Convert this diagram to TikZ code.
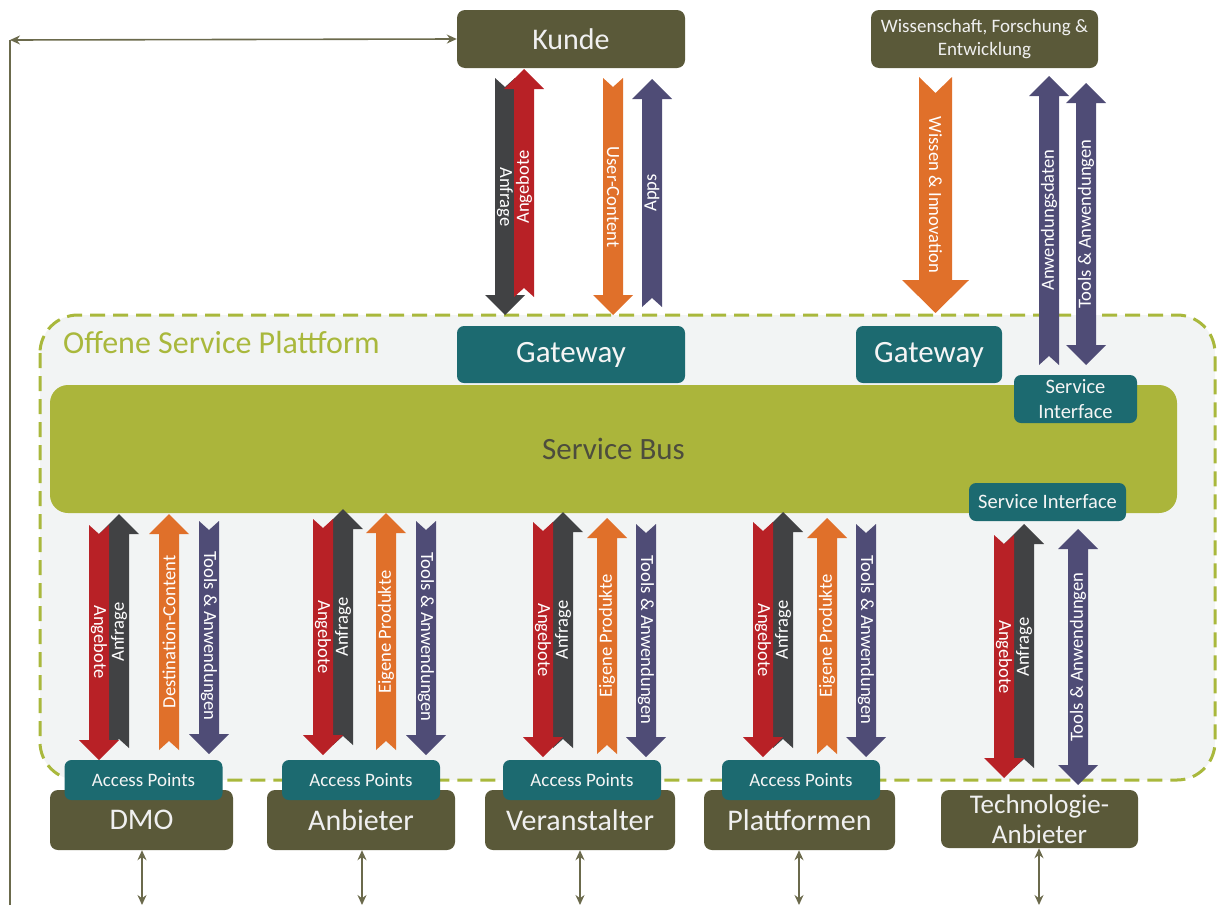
\documentclass[tikz,border=0pt]{standalone}
\usepackage{fontspec}
\setmainfont{Carlito}
\usetikzlibrary{arrows.meta}
\definecolor{olivebox}{HTML}{5A5939}
\definecolor{tealbox}{HTML}{1C6A70}
\definecolor{platfill}{HTML}{F2F4F4}
\definecolor{platline}{HTML}{A9B83C}
\definecolor{busfill}{HTML}{ABB53B}
\definecolor{bustext}{HTML}{4D4D3D}
\definecolor{cred}{HTML}{B82126}
\definecolor{cdark}{HTML}{414244}
\definecolor{corange}{HTML}{E0702A}
\definecolor{cpurple}{HTML}{4F4C76}
\definecolor{connc}{HTML}{6B6A4C}
\newcommand\fatarr[8]{%
  \pgfmathsetmacro\asgn{sign(#4-#3)}%
  \fill[#1] ({#2-#5},{#3}) -- ({#2},{#3+\asgn*#8}) -- ({#2+#5},{#3}) -- ({#2+#5},{#4-\asgn*#7}) -- ({#2+#6},{#4-\asgn*#7}) -- ({#2},{#4}) -- ({#2-#6},{#4-\asgn*#7}) -- ({#2-#5},{#4-\asgn*#7}) -- cycle;}
\newcommand\farr[4]{\fatarr{#1}{#2}{#3}{#4}{10}{20}{20}{9}}
\newcommand\dbarr[4]{%
  \fill[#1] ({#2-10},{#3+20}) -- ({#2-20},{#3+20}) -- ({#2},{#3}) -- ({#2+20},{#3+20}) -- ({#2+10},{#3+20}) -- ({#2+10},{#4-20}) -- ({#2+20},{#4-20}) -- ({#2},{#4}) -- ({#2-20},{#4-20}) -- ({#2-10},{#4-20}) -- cycle;}
\newcommand\alab[5]{\node[arrlab, rotate=#4] (#1) at (#2,#3) {#5};}
\tikzset{
  obox/.style={rounded corners=8pt, fill=olivebox, text=white!94!black, inner sep=0pt, align=center, font=\fontsize{30}{30}\selectfont},
  tbox/.style={rounded corners=7pt, fill=tealbox, text=white!96!black, inner sep=0pt, align=center, font=\fontsize{30}{30}\selectfont},
  apbox/.style={tbox, minimum width=158pt, minimum height=40pt, font=\fontsize{19}{19}\selectfont},
  arrlab/.style={text=white, inner sep=0pt, font=\fontsize{18.6}{18.6}\selectfont},
  conn/.style={draw=connc, line width=1.6pt},
  tip/.style={{Stealth[length=10pt,width=9pt]}-{Stealth[length=10pt,width=9pt]}}
}
\begin{document}
\begin{tikzpicture}[x=1pt,y=-1pt]
\useasboundingbox (0,0) rectangle (1225,905);
% platform
\draw[fill=platfill, draw=platline, line width=3pt, dash pattern=on 15pt off 8pt, rounded corners=38pt] (40,315) rectangle (1215,780);
\node[anchor=base west, text=platline, inner sep=0pt, font=\fontsize{32}{32}\selectfont] (ptitle) at (63,353) {Offene Service Plattform};
% service bus
\node[fill=busfill, rounded corners=18pt, minimum width=1127pt, minimum height=128pt, inner sep=0pt, text=bustext, font=\fontsize{31}{31}\selectfont] (bus) at (613.5,449) {Service Bus};
% top boxes
\node[obox, minimum width=228pt, minimum height=58pt] (kunde) at (571,39) {Kunde};
\node[obox, minimum width=227pt, minimum height=58pt, font=\fontsize{19}{23}\selectfont] (wfe) at (984.5,39) {Wissenschaft, Forschung \&\\Entwicklung};
% gateways and interfaces
\node[tbox, minimum width=228pt, minimum height=57pt, font=\fontsize{31}{31}\selectfont] (gw1) at (571,354.5) {\raisebox{-3pt}{Gateway}};
\node[tbox, minimum width=146pt, minimum height=57pt, font=\fontsize{31}{31}\selectfont] (gw2) at (929,354.5) {\raisebox{-3pt}{Gateway}};
\node[tbox, minimum width=123pt, minimum height=48pt, font=\fontsize{20.5}{25}\selectfont] (si1) at (1075.5,399) {Service\\Interface};
\node[tbox, minimum width=157pt, minimum height=38pt, font=\fontsize{20.5}{22}\selectfont] (si2) at (1047.5,502) {Service Interface};
% Kunde arrows
\farr{cdark}{505}{78}{315}
\farr{cred}{524}{297}{69}
\farr{corange}{613}{78}{315}
\farr{cpurple}{652}{307}{79}
\alab{l1}{505}{197}{-90}{Anfrage}
\alab{l2}{524}{187}{90}{Angebote}
\alab{l3}{613}{197}{-90}{User-Content}
\alab{l4}{652}{193}{90}{Apps}
% Wissenschaft arrows
\fatarr{corange}{935.5}{77}{313}{16.5}{33.5}{33}{16}
\farr{cpurple}{1049}{365}{76}
\dbarr{cpurple}{1086}{83}{365}
\alab{l5}{935.5}{195}{-90}{Wissen \& Innovation}
\alab{l6}{1049}{220}{90}{Anwendungsdaten}
\alab{l7}{1086}{224}{90}{Tools \& Anwendungen}
% DMO group
\farr{cdark}{119}{748}{514}
\farr{cred}{99}{525}{760}
\farr{corange}{169}{750}{514}
\farr{cpurple}{209}{521}{754}
\alab{d1}{99}{642}{-90}{Angebote}
\alab{d2}{119}{632}{90}{Anfrage}
\alab{d3}{169}{632}{90}{Destination-Content}
\alab{d4}{209}{636}{-90}{Tools \& Anwendungen}
% Anbieter group
\farr{cdark}{343}{745}{509}
\farr{cred}{323}{519}{755}
\farr{corange}{386}{750}{513}
\farr{cpurple}{426}{521}{755}
\alab{a1}{323}{637}{-90}{Angebote}
\alab{a2}{343}{627}{90}{Anfrage}
\alab{a3}{386}{632}{90}{Eigene Produkte}
\alab{a4}{426}{637}{-90}{Tools \& Anwendungen}
% Veranstalter group
\farr{cdark}{563}{748}{512}
\farr{cred}{543}{522}{757}
\farr{corange}{607}{754}{518}
\farr{cpurple}{646}{524}{757}
\alab{v1}{543}{640}{-90}{Angebote}
\alab{v2}{563}{630}{90}{Anfrage}
\alab{v3}{607}{636}{90}{Eigene Produkte}
\alab{v4}{646}{640}{-90}{Tools \& Anwendungen}
% Plattformen group
\farr{cdark}{783}{748}{512}
\farr{cred}{763}{522}{757}
\farr{corange}{827}{754}{518}
\farr{cpurple}{866}{524}{757}
\alab{p1}{763}{640}{-90}{Angebote}
\alab{p2}{783}{630}{90}{Anfrage}
\alab{p3}{827}{636}{90}{Eigene Produkte}
\alab{p4}{866}{640}{-90}{Tools \& Anwendungen}
% Technologie group
\farr{cdark}{1024}{768}{524}
\farr{cred}{1004}{535}{778}
\dbarr{cpurple}{1078}{529}{785}
\alab{t1}{1004}{657}{-90}{Angebote}
\alab{t2}{1024}{647}{90}{Anfrage}
\alab{t3}{1078}{657}{90}{Tools \& Anwendungen}
% bottom boxes
\node[obox, minimum width=183pt, minimum height=60pt] (dmo) at (141.5,820) {\raisebox{-5pt}{DMO}};
\node[obox, minimum width=188pt, minimum height=60pt] (anb) at (361,820) {\raisebox{-5pt}{Anbieter}};
\node[obox, minimum width=190pt, minimum height=60pt] (ver) at (580,820) {\raisebox{-5pt}{Veranstalter}};
\node[obox, minimum width=191pt, minimum height=60pt] (pla) at (799.5,820) {\raisebox{-5pt}{Plattformen}};
\node[obox, minimum width=197pt, minimum height=58pt, font=\fontsize{27}{30}\selectfont] (tech) at (1039.5,819) {Technologie-\\Anbieter};
% access points
\node[apbox] (ap1) at (143.5,780) {Access Points};
\node[apbox] (ap2) at (361,780) {Access Points};
\node[apbox] (ap3) at (582,780) {Access Points};
\node[apbox] (ap4) at (801,780) {Access Points};
% connectors
\coordinate (lc) at (10,40);
\coordinate (lb) at (10,905);
\draw[conn] (lb) -- (lc);
\draw[conn, tip] (lc) -- (kunde.west);
\coordinate (e1) at (142,905);
\coordinate (e2) at (362,905);
\coordinate (e3) at (580,905);
\coordinate (e4) at (799,905);
\coordinate (e5) at (1039,905);
\draw[conn, tip] (dmo.south -| e1) -- (e1);
\draw[conn, tip] (anb.south -| e2) -- (e2);
\draw[conn, tip] (ver.south -| e3) -- (e3);
\draw[conn, tip] (pla.south -| e4) -- (e4);
\draw[conn, tip] (tech.south -| e5) -- (e5);
\end{tikzpicture}
\end{document}
